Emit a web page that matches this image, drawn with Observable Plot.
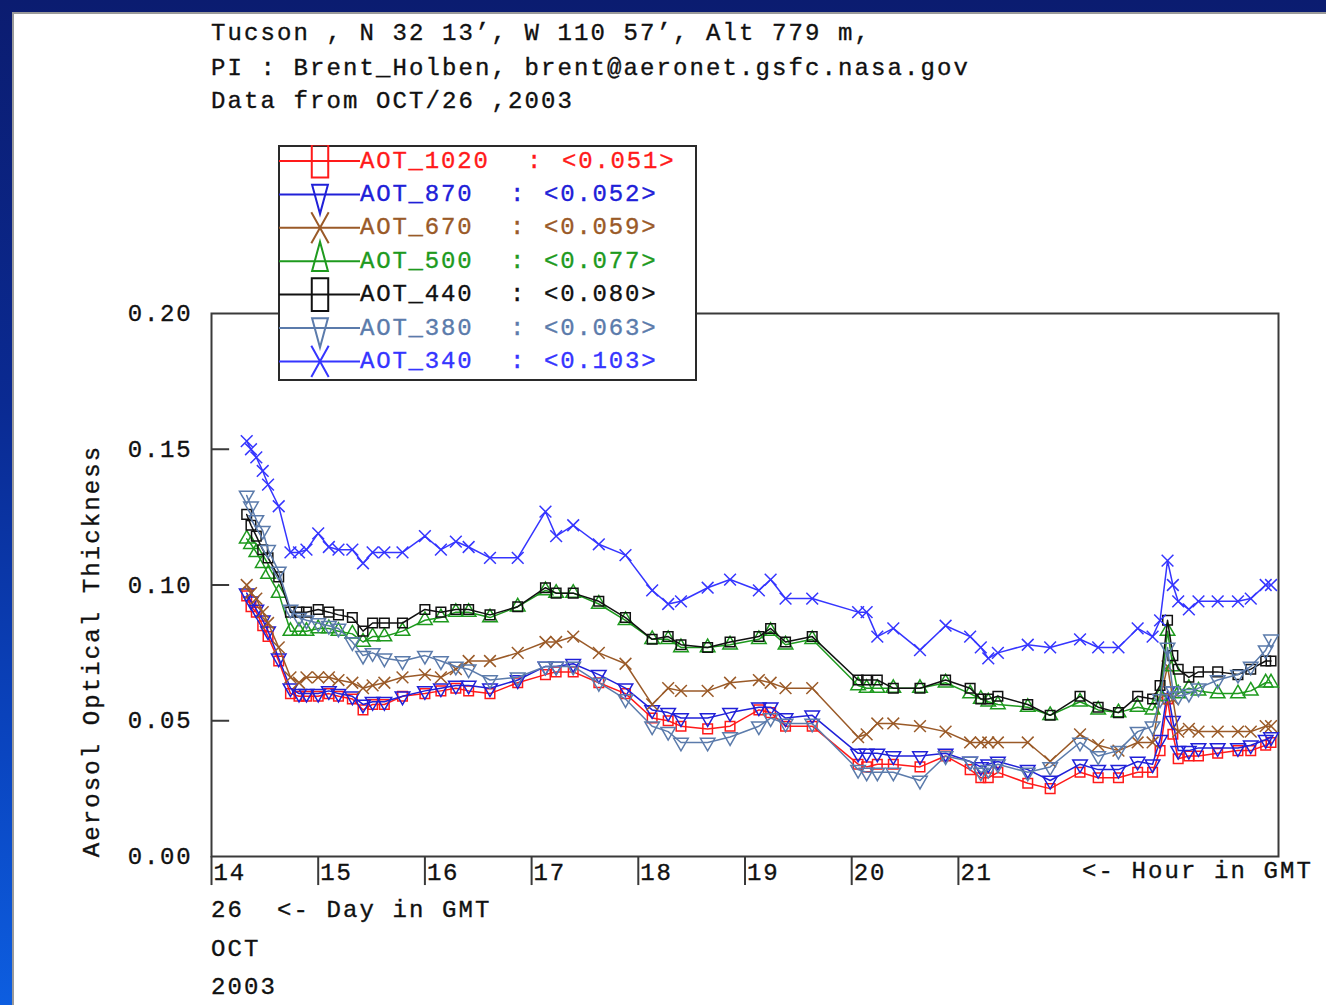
<!DOCTYPE html>
<html><head><meta charset="utf-8">
<script src="https://cdn.jsdelivr.net/npm/d3@7"></script>
<script src="https://cdn.jsdelivr.net/npm/@observablehq/plot@0.6"></script>
<style>
html,body{margin:0;padding:0;}
body{width:1326px;height:1005px;position:relative;overflow:hidden;background:linear-gradient(to bottom,#0b1c70 0%,#0a2a92 40%,#0a45c0 75%,#0d5ee0 100%);font-family:"Liberation Mono","DejaVu Sans Mono",monospace;}
#panel{position:absolute;left:12px;top:12px;right:-4px;bottom:-4px;background:#fff;border-left:2px solid #9a9a9a;border-top:2px solid #9a9a9a;}
.t{position:absolute;font-size:24px;letter-spacing:2.1px;color:#111;white-space:pre;line-height:24px;-webkit-text-stroke:0.35px #111;}
#chart{position:absolute;left:0;top:0;}
#legend{position:absolute;left:278px;top:145px;}
svg text{letter-spacing:1.8px;stroke-width:0.35px;}
</style></head>
<body>
<div id="panel"></div>
<div class="t" style="left:211px;top:22px">Tucson , N 32 13’, W 110 57’, Alt 779 m,</div>
<div class="t" style="left:211px;top:57px">PI : Brent_Holben, brent@aeronet.gsfc.nasa.gov</div>
<div class="t" style="left:211px;top:90px">Data from OCT/26 ,2003</div>
<div id="chart"></div>
<div class="t" style="left:1082px;top:860px">&lt;- Hour in GMT</div>
<div class="t" style="left:211px;top:899px">26  &lt;- Day in GMT</div>
<div class="t" style="left:211px;top:938px">OCT</div>
<div class="t" style="left:211px;top:976px">2003</div>
<div class="t" style="left:93px;top:651px;transform:translate(-50%,-50%) rotate(-90deg)">Aerosol Optical Thickness</div>
<div id="legend"></div>
<script>
// ---- data ----
const hours = [14.33,14.37,14.42,14.48,14.53,14.63,14.74,14.82,14.89,15.00,15.10,15.19,15.32,15.42,15.51,15.62,15.79,16.00,16.15,16.29,16.41,16.61,16.87,17.13,17.23,17.39,17.63,17.88,18.13,18.28,18.40,18.65,18.86,19.13,19.24,19.38,19.63,20.06,20.14,20.24,20.39,20.64,20.88,21.11,21.21,21.28,21.37,21.65,21.86,22.14,22.31,22.50,22.68,22.82,22.89,22.96,23.01,23.06,23.16,23.25,23.43,23.62,23.74,23.88,23.93];

const aot1020 = [0.096,0.092,0.090,0.085,0.081,0.072,0.060,0.059,0.059,0.059,
0.060,0.059,0.058,0.054,0.056,0.056,0.059,0.060,0.061,0.062,
0.061,0.060,0.064,0.067,0.068,0.068,0.064,0.060,0.051,0.050,
0.048,0.047,0.048,0.054,0.053,0.048,0.048,0.034,0.033,0.034,
0.034,0.033,0.037,0.032,0.029,0.029,0.031,0.027,0.025,0.031,
0.029,0.029,0.031,0.031,0.039,0.058,0.045,0.036,0.037,0.037,
0.038,0.039,0.039,0.041,0.042];
const aot870 = [0.097,0.094,0.091,0.087,0.083,0.073,0.062,0.060,0.060,0.060,
0.061,0.060,0.059,0.056,0.057,0.057,0.059,0.061,0.062,0.063,
0.063,0.062,0.065,0.070,0.070,0.071,0.067,0.062,0.054,0.053,
0.051,0.051,0.053,0.055,0.055,0.051,0.052,0.038,0.038,0.038,
0.037,0.037,0.038,0.035,0.033,0.034,0.035,0.032,0.028,0.034,
0.032,0.032,0.035,0.034,0.043,0.061,0.050,0.039,0.039,0.040,
0.040,0.040,0.041,0.043,0.044];
const aot670 = [0.100,0.097,0.095,0.090,0.086,0.077,0.066,0.064,0.066,0.066,
0.066,0.065,0.064,0.062,0.063,0.064,0.066,0.067,0.066,0.069,
0.072,0.072,0.075,0.079,0.079,0.081,0.075,0.071,0.056,0.062,
0.061,0.061,0.064,0.065,0.064,0.062,0.062,0.044,0.045,0.049,
0.049,0.048,0.046,0.042,0.042,0.042,0.042,0.042,0.035,0.045,
0.041,0.039,0.042,0.042,0.058,0.070,0.058,0.046,0.047,0.046,
0.046,0.046,0.046,0.048,0.048];
const aot500 = [0.117,0.115,0.112,0.108,0.104,0.097,0.083,0.083,0.083,0.084,
0.084,0.083,0.082,0.079,0.081,0.081,0.083,0.087,0.088,0.090,
0.090,0.088,0.092,0.098,0.097,0.097,0.093,0.087,0.080,0.080,
0.077,0.077,0.078,0.080,0.083,0.078,0.080,0.063,0.062,0.062,
0.062,0.062,0.064,0.060,0.058,0.057,0.056,0.055,0.052,0.057,
0.054,0.053,0.055,0.054,0.059,0.083,0.070,0.060,0.062,0.061,
0.060,0.060,0.061,0.064,0.064];
const aot440 = [0.126,0.122,0.118,0.113,0.110,0.103,0.090,0.090,0.090,0.091,
0.090,0.089,0.088,0.083,0.086,0.086,0.086,0.091,0.090,0.091,
0.091,0.089,0.092,0.099,0.097,0.097,0.094,0.088,0.080,0.081,
0.078,0.077,0.079,0.081,0.084,0.079,0.081,0.065,0.065,0.065,
0.062,0.062,0.065,0.062,0.058,0.058,0.059,0.056,0.052,0.059,
0.055,0.053,0.059,0.058,0.063,0.087,0.074,0.069,0.066,0.068,
0.068,0.067,0.069,0.072,0.072];
const aot380 = [0.133,0.129,0.124,0.120,0.113,0.105,0.091,0.088,0.087,0.086,
0.085,0.084,0.079,0.074,0.075,0.073,0.072,0.074,0.072,0.070,
0.069,0.065,0.066,0.070,0.070,0.070,0.064,0.058,0.048,0.046,
0.042,0.042,0.044,0.048,0.051,0.049,0.049,0.032,0.031,0.031,
0.031,0.028,0.037,0.035,0.031,0.032,0.034,0.031,0.033,0.042,
0.037,0.039,0.046,0.048,0.058,0.077,0.061,0.059,0.060,0.062,
0.065,0.067,0.070,0.076,0.080];
const aot340 = [0.153,0.150,0.147,0.142,0.137,0.129,0.112,0.112,0.113,0.119,
0.114,0.113,0.113,0.108,0.112,0.112,0.112,0.118,0.113,0.116,
0.114,0.110,0.110,0.127,0.118,0.122,0.115,0.111,0.098,0.093,
0.094,0.099,0.102,0.098,0.102,0.095,0.095,0.090,0.090,0.081,
0.084,0.076,0.085,0.081,0.077,0.073,0.075,0.078,0.077,0.080,
0.077,0.077,0.084,0.081,0.087,0.109,0.100,0.094,0.091,0.094,
0.094,0.094,0.095,0.100,0.100];

const seriesNames = ["AOT_1020","AOT_870","AOT_670","AOT_500","AOT_440","AOT_380","AOT_340"];
const seriesMeans = ["0.051","0.052","0.059","0.077","0.080","0.063","0.103"];
const seriesValues = [aot1020,aot870,aot670,aot500,aot440,aot380,aot340];
const hourTicks = [14,15,16,17,18,19,20,21];
const yTicks = [0.00,0.05,0.10,0.15,0.20];

// ---- styles ----
const colors = ["#ff1a1a","#2020d8","#9a5a28","#1e9a1e","#111111","#5b7bab","#3535ff"];
const symbols = ["square","triangle","times","triangle","square","triangle","times"];
const rotations = [0,180,0,0,0,180,0];
const FONT = "Liberation Mono, DejaVu Sans Mono, monospace";

const marks = [
  Plot.frame({stroke:"#3a3a3a", strokeWidth:2}),
  Plot.ruleY(yTicks.filter(d => d > 0 && d < 0.2), {x1:14, x2:14.17, stroke:"#3a3a3a", strokeWidth:2}),
  Plot.ruleX(hourTicks, {y1:0, y2:-0.0107, stroke:"#3a3a3a", strokeWidth:2}),
  Plot.text(yTicks, {x:14, y:d => d, text:d => d.toFixed(2), dx:-19, textAnchor:"end", fontSize:24, fontFamily:FONT, fill:"#111", stroke:"#111"}),
  Plot.text(hourTicks, {x:d => d, y:0, dy:16, dx:2, text:d => String(d), textAnchor:"start", fontSize:24, fontFamily:FONT, fill:"#111", stroke:"#111"})
];
seriesNames.forEach((name, i) => {
  const rows = hours.map((h, j) => ({hour:h, aot:seriesValues[i][j]}));
  marks.push(Plot.line(rows, {x:"hour", y:"aot", stroke:colors[i], strokeWidth:1.5}));
  marks.push(Plot.dot(rows, {x:"hour", y:"aot", stroke:colors[i], symbol:symbols[i], rotate:rotations[i], r:5.4, strokeWidth:1.5, fill:"none"}));
});

const chart = Plot.plot({
  width:1326, height:1005,
  marginLeft:211, marginRight:48, marginTop:313, marginBottom:149,
  x:{domain:[14,24], axis:null},
  y:{domain:[0,0.2], axis:null},
  style:{background:"transparent", overflow:"visible"},
  marks
});
document.getElementById("chart").appendChild(chart);

// ---- legend ----
const lw = 419, lh = 236;
const lsvg = d3.select("#legend").append("svg").attr("width", lw).attr("height", lh);
lsvg.append("rect").attr("x",1).attr("y",1).attr("width",lw-2).attr("height",lh-2)
  .attr("fill","#fff").attr("stroke","#2a2a2a").attr("stroke-width",2);
const symMap = {square:d3.symbolSquare, triangle:d3.symbolTriangle, times:d3.symbolTimes};
seriesNames.forEach((name, i) => {
  const y = 16 + i*33.4;
  const g = lsvg.append("g");
  g.append("line").attr("x1",1).attr("x2",82).attr("y1",y).attr("y2",y).attr("stroke",colors[i]).attr("stroke-width",2);
  const sz = symbols[i] === "square" ? 300 : symbols[i] === "triangle" ? 170 : 220;
  g.append("path").attr("d", d3.symbol(symMap[symbols[i]], sz)())
    .attr("transform", `translate(42,${y}) rotate(${rotations[i]}) scale(${symbols[i]==="triangle"?0.8:0.95},${symbols[i]==="square"?1.9:1.7})`)
    .attr("fill","none").attr("stroke",colors[i]).attr("stroke-width",2).attr("vector-effect","non-scaling-stroke");
  const first = i === 0;
  const txt = (x, s) => g.append("text").attr("x",x).attr("y",y).attr("dominant-baseline","central")
    .attr("font-family",FONT).attr("font-size",24).attr("fill",colors[i]).attr("stroke",colors[i]).text(s);
  txt(82, name);
  txt(first ? 249 : 232, ":");
  txt(first ? 284 : 266, "<" + seriesMeans[i] + ">");
});
</script>
</body></html>
